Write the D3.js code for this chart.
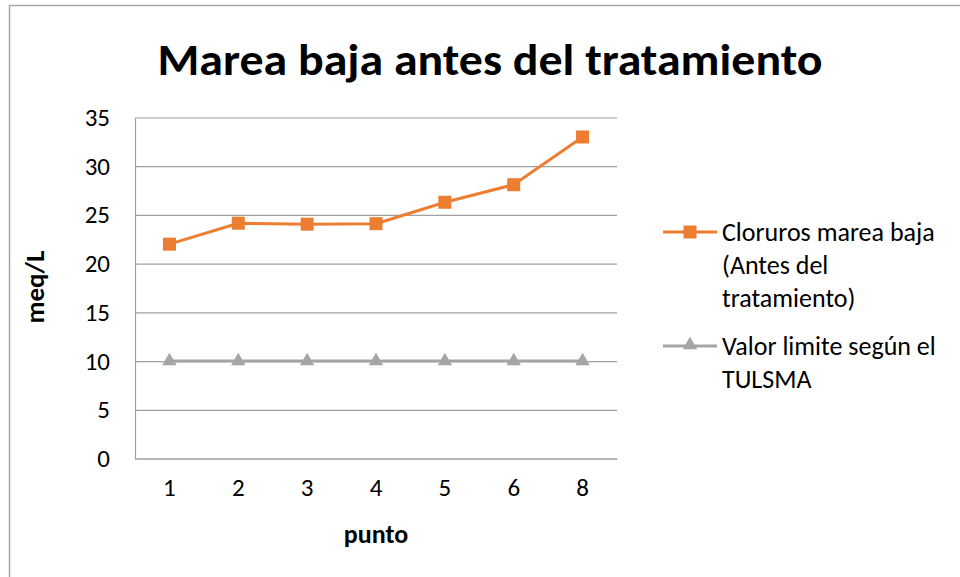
<!DOCTYPE html>
<html>
<head>
<meta charset="utf-8">
<script src="https://cdn.jsdelivr.net/npm/d3@7"></script>
<style>
  body { margin: 0; background: #fff; }
  svg { display: block; font-family: Carlito, Calibri, "Open Sans", sans-serif; }
</style>
</head>
<body>
<div id="chart"></div>
<script>
// Chart data
let categories = ['1', '2', '3', '4', '5', '6', '8'];
let cloruros = [22.0, 24.15, 24.05, 24.1, 26.3, 28.1, 33.0];
let limite = [10, 10, 10, 10, 10, 10, 10];
let yTicks = [0, 5, 10, 15, 20, 25, 30, 35];

let orange = '#ed7d31';
let gray = '#a5a5a5';
let fontFamily = 'Carlito, Calibri, "Open Sans", sans-serif';

let width = 960, height = 577;
let margin = {top: 117.5, left: 135, right: 343, bottom: 118.5};
let plotW = width - margin.left - margin.right;
let plotH = height - margin.top - margin.bottom;

let svg = d3.select('#chart')
    .append('svg')
    .attr('width', width)
    .attr('height', height);

// Outer frame
svg.append('rect')
    .attr('x', 9.5).attr('y', 5.5)
    .attr('width', width + 10).attr('height', height + 10)
    .attr('fill', 'none')
    .attr('stroke', '#a6a6a6')
    .attr('stroke-width', 1.5);

// Title
svg.append('text')
    .attr('x', 490).attr('y', 75)
    .attr('text-anchor', 'middle')
    .attr('font-size', '45px')
    .attr('font-weight', 'bold')
    .attr('fill', '#000')
    .attr('textLength', 665)
    .attr('lengthAdjust', 'spacingAndGlyphs')
    .text('Marea baja antes del tratamiento');

let g = svg.append('g')
    .attr('transform', 'translate(' + margin.left + ',' + margin.top + ')');

// Scales
let x = d3.scaleBand()
    .domain(categories)
    .range([0, plotW]);

let y = d3.scaleLinear()
    .domain([0, 35])
    .range([plotH, 0]);

// Gridlines
g.append('g')
    .attr('class', 'grid')
    .call(d3.axisLeft(y).tickValues(yTicks).tickSize(-plotW).tickFormat(''))
    .call(s => s.select('.domain').remove())
    .call(s => s.selectAll('line').attr('stroke', '#a0a0a0').attr('stroke-width', 1.2));

// Y axis
let yAxis = g.append('g')
    .call(d3.axisLeft(y).tickValues(yTicks).tickSize(0).tickPadding(25));
yAxis.select('.domain').attr('stroke', '#a0a0a0').attr('stroke-width', 1.2);
yAxis.selectAll('text')
    .attr('font-size', '25px')
    .attr('fill', '#000')
    .attr('font-family', fontFamily);

// X axis
let xAxis = g.append('g')
    .attr('transform', 'translate(0,' + plotH + ')')
    .call(d3.axisBottom(x).tickSize(0).tickPadding(20));
xAxis.select('.domain').attr('stroke', '#a0a0a0').attr('stroke-width', 1.2);
xAxis.selectAll('text')
    .attr('font-size', '25px')
    .attr('fill', '#000')
    .attr('font-family', fontFamily);

// Axis titles
svg.append('text')
    .attr('transform', 'translate(44,287) rotate(-90)')
    .attr('text-anchor', 'middle')
    .attr('font-size', '27px')
    .attr('font-weight', 'bold')
    .text('meq/L');

svg.append('text')
    .attr('x', 376).attr('y', 543)
    .attr('text-anchor', 'middle')
    .attr('font-size', '26px')
    .attr('font-weight', 'bold')
    .text('punto');

let cx = d => x(d) + x.bandwidth() / 2;

let line = d3.line()
    .x((d, i) => cx(categories[i]))
    .y(d => y(d));

// Limit series
g.append('path')
    .datum(limite)
    .attr('d', line)
    .attr('fill', 'none')
    .attr('stroke', gray)
    .attr('stroke-width', 3);

let tri = d3.symbol().type(d3.symbolTriangle).size(90);
g.selectAll('.tri')
    .data(limite)
    .enter()
    .append('path')
    .attr('class', 'tri')
    .attr('d', tri)
    .attr('transform', (d, i) => 'translate(' + cx(categories[i]) + ',' + y(d) + ')')
    .attr('fill', gray);

// Cloruros series
g.append('path')
    .datum(cloruros)
    .attr('d', line)
    .attr('fill', 'none')
    .attr('stroke', orange)
    .attr('stroke-width', 3);

g.selectAll('.sq')
    .data(cloruros)
    .enter()
    .append('rect')
    .attr('class', 'sq')
    .attr('x', (d, i) => cx(categories[i]) - 6.5)
    .attr('y', d => y(d) - 6.5)
    .attr('width', 13)
    .attr('height', 13)
    .attr('fill', orange);

// Legend
let legendItems = [
    {color: orange, marker: 'square', lines: ['Cloruros marea baja', '(Antes del', 'tratamiento)'], y: 232},
    {color: gray, marker: 'triangle', lines: ['Valor limite según el', 'TULSMA'], y: 346}
];

legendItems.forEach(function(item) {
    let lg = svg.append('g').attr('transform', 'translate(0,' + item.y + ')');
    lg.append('line')
        .attr('x1', 663).attr('x2', 717)
        .attr('y1', 0).attr('y2', 0)
        .attr('stroke', item.color)
        .attr('stroke-width', 3);
    if (item.marker === 'square') {
        lg.append('rect')
            .attr('x', 683.5).attr('y', -6.5)
            .attr('width', 13).attr('height', 13)
            .attr('fill', item.color);
    } else {
        lg.append('path')
            .attr('d', tri)
            .attr('transform', 'translate(690,-1)')
            .attr('fill', item.color);
    }
    item.lines.forEach(function(t, i) {
        lg.append('text')
            .attr('x', 722)
            .attr('y', 9 + i * 33)
            .attr('font-size', '26px')
            .attr('fill', '#000')
            .text(t);
    });
});
</script>
</body>
</html>
